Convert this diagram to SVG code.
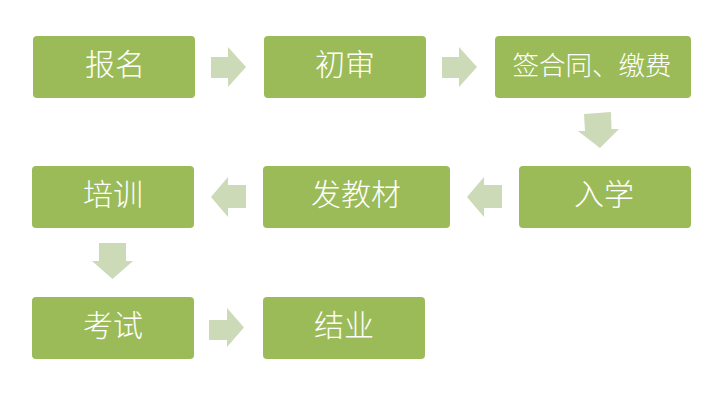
<svg xmlns="http://www.w3.org/2000/svg" width="724" height="400" viewBox="0 0 724 400">
<style>
.box{fill:#9BBB59;}
.arr{fill:#CDDAB7;}
.t{fill:#FFFFFF;font-family:"Noto Sans CJK SC","Noto Sans",sans-serif;font-weight:300;font-size:30px;text-anchor:middle;dominant-baseline:central;}
.s{font-size:26.5px;}
</style>
<rect width="724" height="400" fill="#FFFFFF"/>
<g id="connectors">
<polygon class="arr" points="211,57 228,57 228,47 246,67 228,87 228,78 211,78"/>
<polygon class="arr" points="442,57 459,57 459,47 477,67 459,87 459,78 442,78"/>
<polygon class="arr" points="584,114 611,112 611.5,129 619,129 600,148 578,131 585,131"/>
<polygon class="arr" points="502,185 484,185 484,177 467,197 484,217 484,208 502,208"/>
<polygon class="arr" points="246,185 228,185 228,177 211,197 228,217 228,208 246,208"/>
<polygon class="arr" points="99,243 126,243 126,261 133,261 112.5,279 92,261 99,261"/>
<polygon class="arr" points="209,320 227,320 227,308 244,327.5 227,347 227,340 209,340"/>
</g>
<g id="n1"><rect class="box" x="33" y="36" width="162" height="62" rx="4"/><text class="t" x="115" y="62">报名</text></g>
<g id="n2"><rect class="box" x="264" y="36" width="162" height="62" rx="4"/><text class="t" x="345" y="62">初审</text></g>
<g id="n3"><rect class="box" x="495" y="36" width="196" height="62" rx="4"/><text class="t s" x="592" y="63">签合同、缴费</text></g>
<g id="n4"><rect class="box" x="519" y="166" width="172" height="62" rx="4"/><text class="t" x="604" y="192">入学</text></g>
<g id="n5"><rect class="box" x="263" y="166" width="187" height="62" rx="4"/><text class="t" x="356" y="192">发教材</text></g>
<g id="n6"><rect class="box" x="32" y="166" width="162" height="62" rx="4"/><text class="t" x="113" y="192">培训</text></g>
<g id="n7"><rect class="box" x="32" y="297" width="162" height="62" rx="4"/><text class="t" x="113" y="323">考试</text></g>
<g id="n8"><rect class="box" x="263" y="297" width="162" height="62" rx="4"/><text class="t" x="344" y="323">结业</text></g>
</svg>
